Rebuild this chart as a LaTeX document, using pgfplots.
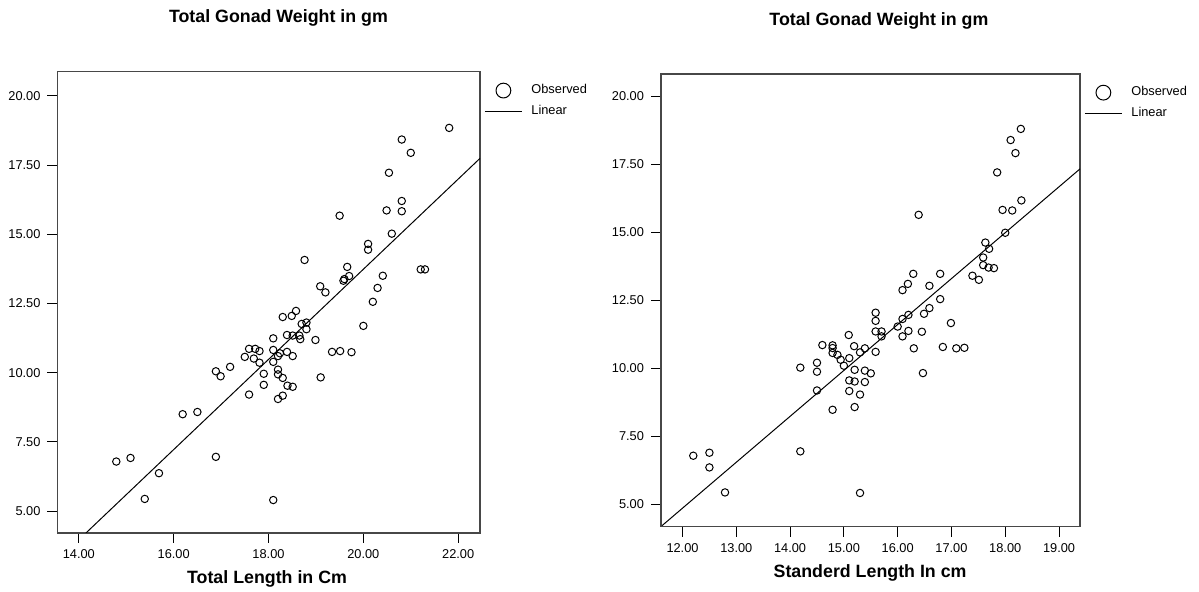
\documentclass[border=0pt]{standalone}
\usepackage{fontspec}
\setmainfont{Liberation Sans}
\usepackage{pgfplots}
\pgfplotsset{compat=1.18}
\pgfplotsset{
  every axis title shift=0pt,
  common/.style={
    scale only axis,
    axis line style={draw=black!72, line width=0.65pt},
    tick style={black, line width=0.5pt},
    tick align=outside, major tick length=5pt,
    xtick pos=left, ytick pos=left,
    ytick={5,7.5,10,12.5,15,17.5,20},
    minor tick num=0,
    /pgf/number format/fixed,
    /pgf/number format/fixed zerofill,
    /pgf/number format/precision=2,
    /pgf/number format/assume math mode=true,
    tick label style={font=\fontsize{6.4}{7}\selectfont},
    label style={font=\bfseries\fontsize{8.9}{10}\selectfont},
    title style={font=\bfseries\fontsize{8.9}{10}\selectfont},
    clip=true,
    legend style={draw=none, fill=none, anchor=north west,
      font=\fontsize{6.4}{7}\selectfont, inner sep=0pt, row sep=3.2pt,
      column sep=4pt, nodes={inner sep=0.5pt}},
    legend cell align=left,
  },
  obs/.style={only marks, mark=o, mark size=1.85pt, mark options={black, line width=0.5pt},
    legend image code/.code={\path (0pt,0pt) (18.5pt,0pt);\draw[mark=o, mark size=3.7pt, line width=0.5pt, black] plot coordinates {(9.25pt,0pt)};}},
  lin/.style={black, line width=0.5pt, no marks,
    legend image code/.code={\draw[line width=0.5pt, black] (0pt,0pt) -- (18.5pt,0pt);}},
}
\begin{document}
\begin{tikzpicture}
\path[use as bounding box] (0pt,0pt) rectangle (599.5pt,296pt);
% ---------------- left
\begin{axis}[common,
  at={(28.75pt,29.5pt)}, anchor=south west,
  width=211.25pt, height=230.65pt,
  xmin=13.55, xmax=22.46, ymin=4.21, ymax=20.87,
  xtick={14,16,18,20,22},
  title={Total Gonad Weight in gm},
  title style={at={(axis description cs:0.523,1.106)}, anchor=base},
  xlabel={Total Length in Cm},
  xlabel style={at={(axis description cs:0.496,-0.110)}, anchor=base},
  legend style={at={(axis description cs:1.0095,0.976)}},
]
\addplot[obs] coordinates {
(21.81,18.84) (20.81,18.42) (21.00,17.94) (20.54,17.22) (20.81,16.20) (20.49,15.86)
(20.81,15.83) (19.50,15.67) (20.60,15.02) (20.10,14.65) (20.10,14.44) (18.76,14.07)
(19.66,13.82) (19.70,13.49) (19.60,13.38) (19.58,13.32) (20.41,13.50) (20.30,13.06)
(20.20,12.56) (21.21,13.73) (21.30,13.73) (19.09,13.12) (19.20,12.90) (18.58,12.23)
(18.30,12.01) (18.49,12.05) (18.70,11.76) (18.80,11.81) (20.00,11.69) (18.80,11.57)
(18.39,11.36) (18.51,11.34) (18.65,11.34) (18.67,11.21) (18.10,11.24) (18.99,11.18)
(19.34,10.75) (19.51,10.78) (19.75,10.74) (17.59,10.86) (17.72,10.86) (17.81,10.78)
(17.50,10.57) (17.69,10.51) (17.81,10.36) (18.10,10.82) (18.10,10.39) (18.20,10.60)
(18.39,10.75) (18.51,10.60) (18.24,10.70) (16.89,10.05) (16.99,9.87) (17.19,10.21)
(17.90,9.96) (17.90,9.56) (18.20,10.11) (18.20,9.94) (18.30,9.81) (18.40,9.53)
(18.51,9.49) (17.59,9.21) (18.30,9.17) (18.20,9.05) (19.10,9.83) (16.19,8.50)
(16.50,8.58) (14.79,6.79) (15.09,6.92) (15.69,6.37) (16.89,6.96) (15.39,5.44)
(18.10,5.40)
};
\addlegendentry{Observed}
\addplot[lin] coordinates {(14.15,4.21) (22.46,17.74)};
\addlegendentry{Linear}
\end{axis}
% ---------------- right
\begin{axis}[common,
  at={(330.5pt,32.65pt)}, anchor=south west,
  width=209.5pt, height=226.35pt,
  xmin=11.6, xmax=19.39, ymin=4.18, ymax=20.83,
  xtick={12,13,14,15,16,17,18,19},
  title={Total Gonad Weight in gm},
  title style={at={(axis description cs:0.52,1.108)}, anchor=base},
  xlabel={Standerd Length In cm},
  xlabel style={at={(axis description cs:0.499,-0.112)}, anchor=base},
  legend style={at={(axis description cs:1.0095,0.976)}},
]
\addplot[obs] coordinates {
(18.29,18.81) (18.10,18.40) (18.19,17.92) (17.85,17.21) (18.30,16.18) (17.95,15.83)
(18.13,15.81) (16.39,15.65) (18.00,14.99) (17.63,14.63) (17.70,14.40) (17.59,14.08)
(17.59,13.80) (17.69,13.71) (17.79,13.69) (17.39,13.41) (17.51,13.26) (16.29,13.48)
(16.79,13.48) (16.19,13.11) (16.09,12.88) (16.59,13.04) (16.79,12.55) (16.59,12.22)
(16.49,12.01) (16.20,11.97) (16.09,11.82) (16.00,11.54) (16.99,11.67) (16.45,11.35)
(16.20,11.38) (16.09,11.18) (15.59,12.05) (15.59,11.75) (15.59,11.36) (15.70,11.36)
(15.70,11.18) (15.09,11.23) (16.30,10.74) (16.84,10.79) (17.09,10.74) (17.24,10.76)
(14.60,10.86) (14.79,10.85) (14.79,10.75) (15.19,10.82) (15.39,10.74) (15.59,10.61)
(14.79,10.57) (14.88,10.50) (14.94,10.32) (15.00,10.10) (15.10,10.38) (15.30,10.59)
(14.19,10.03) (14.50,10.21) (14.50,9.88) (14.50,9.19) (15.20,9.95) (15.39,9.92)
(15.50,9.82) (15.10,9.56) (15.20,9.52) (15.39,9.50) (15.10,9.17) (15.30,9.04)
(15.20,8.58) (14.79,8.48) (16.47,9.83) (14.19,6.95) (12.20,6.79) (12.50,6.90)
(12.50,6.36) (12.79,5.44) (15.30,5.42)
};
\addlegendentry{Observed}
\addplot[lin] coordinates {(11.62,4.22) (19.39,17.34)};
\addlegendentry{Linear}
\end{axis}
\end{tikzpicture}
\end{document}
